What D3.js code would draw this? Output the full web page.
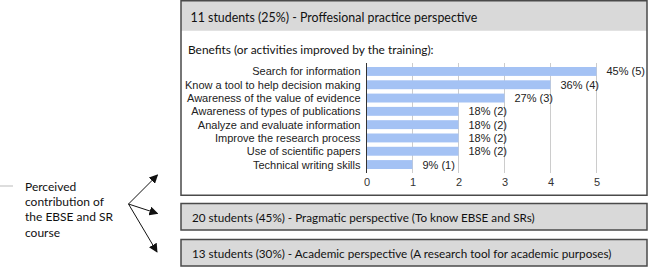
<!DOCTYPE html>
<html>
<head>
<meta charset="utf-8">
<script src="https://cdn.jsdelivr.net/npm/d3@7"></script>
<style>
  html, body { margin: 0; padding: 0; background: #fff; }
  svg { display: block; }
</style>
</head>
<body>
<div id="chart"></div>
<script>
/* -----------------    DATA     ------------------ */

const categories = [
    'Search for information',
    'Know a tool to help decision making',
    'Awareness of the value of evidence',
    'Awareness of types of publications',
    'Analyze and evaluate information',
    'Improve the research process',
    'Use of scientific papers',
    'Technical writing skills'
];
const counts = [5, 4, 3, 2, 2, 2, 2, 1];
const percents = [45, 36, 27, 18, 18, 18, 18, 9];
const tickValues = [0, 1, 2, 3, 4, 5];

const perspectives = [
    '11 students (25%) - Proffesional practice perspective',
    '20 students (45%) - Pragmatic perspective (To know EBSE and SRs)',
    '13 students (30%) - Academic perspective (A research tool for academic purposes)'
];
const benefitsTitle = 'Benefits (or activities improved by the training):';
const sideLabel = ['Perceived', 'contribution of', 'the EBSE and SR', 'course'];

/* -----------------    LAYOUT     ------------------ */

const W = 654, H = 271;
const boxLeft = 181, boxRight = 647;
const colBar = '#a4c2f4';
const colBoxFill = '#d9d9d9';
const colBorder = '#4a4a4a';
const sansFont = 'Lato, "Open Sans", sans-serif';
const chartFont = '"Liberation Sans", Arial, sans-serif';

const svg = d3.select('#chart')
    .append('svg')
    .attr('width', W)
    .attr('height', H);

// top box (professional practice)
svg.append('rect')
    .attr('x', boxLeft).attr('y', 0.75)
    .attr('width', boxRight - boxLeft).attr('height', 30)
    .attr('fill', colBoxFill);

svg.append('rect')
    .attr('x', boxLeft).attr('y', 0.75)
    .attr('width', boxRight - boxLeft).attr('height', 194.5)
    .attr('fill', 'none')
    .attr('stroke', colBorder)
    .attr('stroke-width', 1.5);

svg.append('text')
    .attr('x', 190.5).attr('y', 17.5)
    .attr('dominant-baseline', 'central')
    .attr('font-family', sansFont)
    .attr('font-size', 12.4)
    .attr('fill', '#111')
    .text(perspectives[0]);

svg.append('text')
    .attr('x', 188).attr('y', 49)
    .attr('dominant-baseline', 'central')
    .attr('font-family', sansFont)
    .attr('font-size', 11.9)
    .attr('fill', '#111')
    .text(benefitsTitle);

// lower boxes
const lowerBoxes = [{top: 203.5, h: 26.5}, {top: 239.5, h: 26.5}];
lowerBoxes.forEach((b, i) => {
    svg.append('rect')
        .attr('x', boxLeft).attr('y', b.top)
        .attr('width', boxRight - boxLeft).attr('height', b.h)
        .attr('fill', colBoxFill)
        .attr('stroke', colBorder)
        .attr('stroke-width', 1.5);
    svg.append('text')
        .attr('x', 192).attr('y', b.top + b.h / 2)
        .attr('dominant-baseline', 'central')
        .attr('font-family', sansFont)
        .attr('font-size', 11.7)
        .attr('fill', '#111')
        .text(perspectives[i + 1]);
});

/* -----------------    BAR CHART     ------------------ */

const x = d3.scaleLinear()
    .domain([0, 5])
    .range([366.5, 596.5]);

const y = d3.scaleBand()
    .domain(categories)
    .range([64.8, 171.2])
    .paddingInner(0.33)
    .paddingOuter(0.165);

const plot = svg.append('g');

// gridlines
plot.selectAll('.grid')
    .data(tickValues.filter(d => d > 0))
    .enter()
    .append('line')
    .attr('x1', d => x(d)).attr('x2', d => x(d))
    .attr('y1', 63).attr('y2', 173)
    .attr('stroke', '#cccccc')
    .attr('stroke-width', 1);

// bars
plot.selectAll('.bar')
    .data(categories)
    .enter()
    .append('rect')
    .attr('x', x(0))
    .attr('y', d => y(d))
    .attr('width', (d, i) => x(counts[i]) - x(0))
    .attr('height', y.bandwidth())
    .attr('fill', colBar);

// baseline
plot.append('line')
    .attr('x1', x(0)).attr('x2', x(0))
    .attr('y1', 63).attr('y2', 173)
    .attr('stroke', '#333')
    .attr('stroke-width', 1);

// category labels
plot.selectAll('.cat')
    .data(categories)
    .enter()
    .append('text')
    .attr('x', 360.5)
    .attr('y', d => y(d) + y.bandwidth() / 2)
    .attr('text-anchor', 'end')
    .attr('dominant-baseline', 'central')
    .attr('font-family', chartFont)
    .attr('font-size', 11)
    .attr('fill', '#222')
    .text(d => d);

// value labels
plot.selectAll('.val')
    .data(categories)
    .enter()
    .append('text')
    .attr('x', (d, i) => x(counts[i]) + 10)
    .attr('y', d => y(d) + y.bandwidth() / 2)
    .attr('dominant-baseline', 'central')
    .attr('font-family', chartFont)
    .attr('font-size', 11)
    .attr('fill', '#222')
    .text((d, i) => percents[i] + '% (' + counts[i] + ')');

// x axis
const xAxis = d3.axisBottom(x)
    .tickValues(tickValues)
    .tickSize(0)
    .tickPadding(0)
    .tickFormat(d3.format('d'));

const axisG = plot.append('g')
    .attr('transform', 'translate(0,178)')
    .call(xAxis);
axisG.select('.domain').remove();
axisG.selectAll('text')
    .attr('font-family', chartFont)
    .attr('font-size', 11)
    .attr('fill', '#333');

/* -----------------    SIDE LABEL + ARROWS     ------------------ */

svg.append('line')
    .attr('x1', 0).attr('x2', 13)
    .attr('y1', 186).attr('y2', 186)
    .attr('stroke', '#bbbbbb')
    .attr('stroke-width', 1);

svg.append('text')
    .attr('font-family', sansFont)
    .attr('font-size', 12)
    .attr('fill', '#111')
    .selectAll('tspan')
    .data(sideLabel)
    .enter()
    .append('tspan')
    .attr('x', 25)
    .attr('y', (d, i) => 190.5 + i * 15.4)
    .text(d => d);

svg.append('defs')
    .append('marker')
    .attr('id', 'head')
    .attr('viewBox', '0 0 10 10')
    .attr('refX', 9).attr('refY', 5)
    .attr('markerWidth', 9).attr('markerHeight', 9)
    .attr('markerUnits', 'userSpaceOnUse')
    .attr('orient', 'auto')
    .append('path')
    .attr('d', 'M0,0 L10,5 L0,10 Z')
    .attr('fill', '#111');

const origin = {x: 128.5, y: 204};
const arrowTips = [{x: 157.5, y: 175}, {x: 157.5, y: 213.5}, {x: 157, y: 252}];
svg.selectAll('.arrow')
    .data(arrowTips)
    .enter()
    .append('line')
    .attr('x1', origin.x).attr('y1', origin.y)
    .attr('x2', d => d.x).attr('y2', d => d.y)
    .attr('stroke', '#111')
    .attr('stroke-width', 1)
    .attr('marker-end', 'url(#head)');
</script>
</body>
</html>
